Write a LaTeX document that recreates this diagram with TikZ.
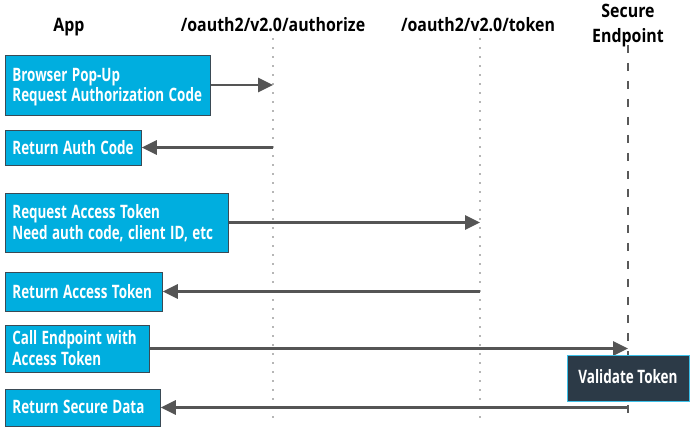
\documentclass[tikz,border=0pt]{standalone}
\usepackage{graphicx}
\usepackage{fontspec}
\setmainfont{Open Sans}
\usetikzlibrary{arrows.meta}
\newcommand{\sqz}[1]{\raisebox{-2.5pt}[\height][\depth]{\scalebox{0.725}[1]{\begin{tabular}{@{}l@{}}#1\end{tabular}}}}
\newcommand{\sqzc}[1]{\scalebox{0.73}[1]{\begin{tabular}{@{}c@{}}#1\end{tabular}}}
\newcommand{\sqzh}[1]{\scalebox{0.86}[1]{\begin{tabular}{@{}c@{}}#1\end{tabular}}}
\definecolor{boxcyan}{HTML}{00AEDF}
\definecolor{boxedge}{HTML}{3A4A55}
\definecolor{arrowgray}{HTML}{555555}
\definecolor{darknavy}{HTML}{2C3A47}
\definecolor{lightcyan}{HTML}{3CC0E8}
\tikzset{
  msgbox/.style={draw=boxedge, line width=0.8pt, fill=boxcyan, text=white, anchor=west, align=left,
    font=\fontsize{18.5}{20}\selectfont\bfseries, inner xsep=7pt, inner ysep=0pt},
  hdr/.style={font=\fontsize{18.5}{24}\selectfont\bfseries, text=black, inner sep=0pt},
  msg/.style={draw=arrowgray, line width=2.8pt, -{Triangle[length=15pt,width=14pt]}},
  dotline/.style={draw=gray!85!black, line width=1.8pt, dash pattern=on 0pt off 9pt, line cap=round},
  dashline/.style={draw=gray!70!black, line width=1.4pt, dash pattern=on 8pt off 10pt},
  valbox/.style={draw=lightcyan, line width=1pt, fill=darknavy, text=white,
    font=\fontsize{18.5}{20}\selectfont\bfseries, minimum width=122pt, minimum height=46pt, inner sep=0pt}
}
\begin{document}
\begin{tikzpicture}[x=1pt,y=1pt]
\useasboundingbox (0,0) rectangle (697,431);
% headers
\node[hdr] (hApp) at (69,404) {\sqzh{App}};
\node[hdr] (hAuth) at (273,404) {\sqzh{/oauth2/v2.0/authorize}};
\node[hdr] (hTok) at (478,404) {\sqzh{/oauth2/v2.0/token}};
\node[hdr] (hSec) at (628,406) {\sqzh{Secure\\[1pt]Endpoint}};
% lifeline ends
\coordinate (eAuth) at (273,6);
\coordinate (eTok) at (480,6);
\coordinate (eSec) at (628,13);
\coordinate (sAuth) at (273,392);
\coordinate (sTok) at (480,392);
\coordinate (sSec) at (628,386);
\draw[dotline] (sAuth) -- (eAuth);
\draw[dotline] (sTok) -- (eTok);
\draw[dashline] (sSec) -- (eSec);
% boxes
\node[msgbox, text width=191pt, minimum height=60pt] (b1) at (5,346) {\sqz{Browser Pop-Up\\Request Authorization Code}};
\node[msgbox, text width=122pt, minimum height=35pt] (b2) at (5,283.5) {\sqz{Return Auth Code}};
\node[msgbox, text width=209pt, minimum height=59pt] (b3) at (5,208.5) {\sqz{Request Access Token\\Need auth code, client ID, etc}};
\node[msgbox, text width=143pt, minimum height=39pt] (b4) at (5,139.5) {\sqz{Return Access Token}};
\node[msgbox, text width=130pt, minimum height=47pt] (b5) at (5,82.5) {\sqz{Call Endpoint with\\Access Token}};
\node[msgbox, text width=141pt, minimum height=37pt] (b6) at (5,23.5) {\sqz{Return Secure Data}};
% messages
\draw[msg] (b1.east) -- (b1.east -| sAuth);
\draw[msg] (b2.east -| sAuth) -- (b2.east);
\draw[msg] (b3.east) -- (b3.east -| sTok);
\draw[msg] (b4.east -| sTok) -- (b4.east);
\draw[msg] (b5.east) -- (b5.east -| sSec);
\draw[msg] (b6.east -| sSec) -- (b6.east);
% validate
\node[valbox] (val) at (628,52) {\sqzc{Validate Token}};
\end{tikzpicture}
\end{document}
